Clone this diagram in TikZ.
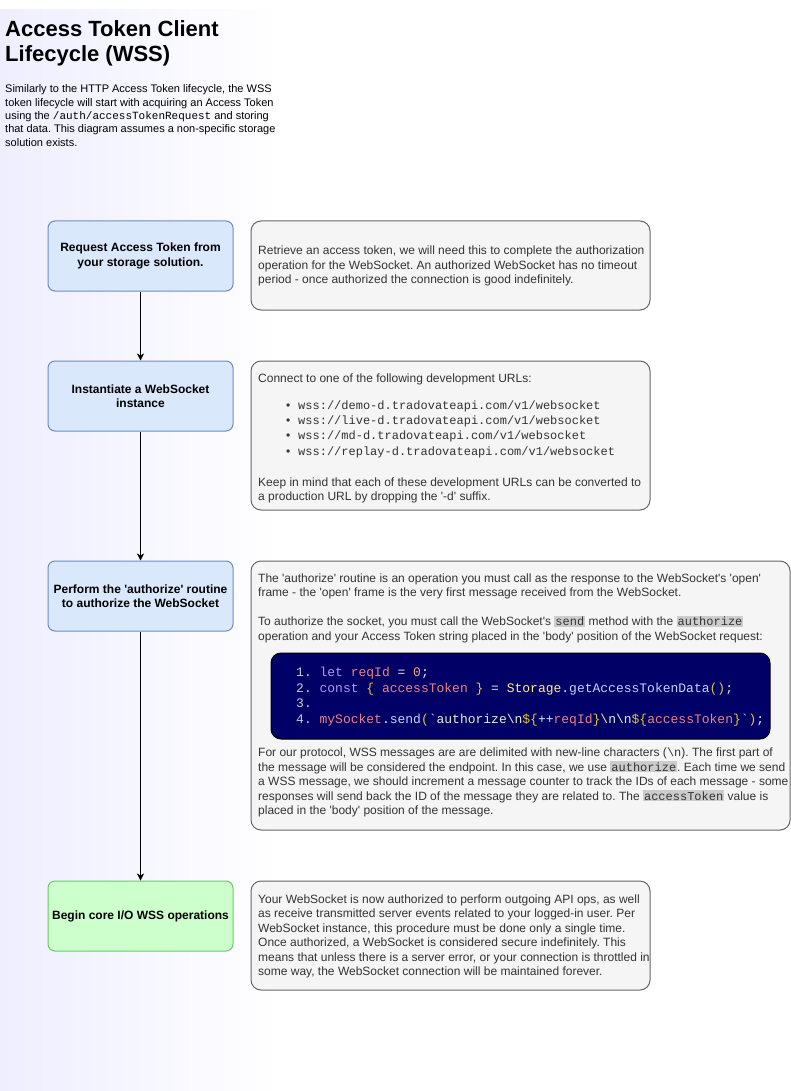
\documentclass[tikz,border=0pt]{standalone}
\usepackage{fontspec}
\setmainfont{Liberation Sans}[Ligatures=TeXOff]
\setmonofont{Liberation Mono}
\usetikzlibrary{arrows.meta}
\definecolor{bgl}{RGB}{238,238,255}
\definecolor{bfill}{RGB}{218,232,252}
\definecolor{bline}{RGB}{108,142,191}
\definecolor{gfill}{RGB}{204,255,204}
\definecolor{gline}{RGB}{102,204,102}
\definecolor{nfill}{RGB}{245,245,245}
\definecolor{nline}{RGB}{102,102,102}
\definecolor{txtgray}{RGB}{51,51,51}
\definecolor{hlgray}{RGB}{204,204,204}
\definecolor{codebg}{RGB}{0,0,102}
\definecolor{jnum}{RGB}{204,204,204}
\definecolor{jkw}{RGB}{180,150,240}
\definecolor{jvar}{RGB}{240,128,128}
\definecolor{jlit}{RGB}{247,170,120}
\definecolor{jpun}{RGB}{230,200,40}
\definecolor{jcls}{RGB}{255,235,140}
\definecolor{jfn}{RGB}{195,210,255}
\definecolor{jstr}{RGB}{232,236,200}
\definecolor{jop}{RGB}{230,230,230}
\newcommand{\hl}[1]{{\setlength\fboxsep{1pt}\colorbox{hlgray}{\ttfamily #1}}}
\newcommand{\jc}[2]{\textcolor{#1}{#2}}
\frenchspacing
\begin{document}
\begin{tikzpicture}[x=1pt,y=-1pt,
    blk/.style={rectangle,draw=bline,fill=bfill,rounded corners=7pt,minimum width=185pt,minimum height=70pt,line width=1pt,align=center,font=\fontsize{12}{14.5}\selectfont\bfseries},
    note/.style={rectangle,draw=nline,fill=nfill,rounded corners=10pt,line width=1pt},
    txt/.style={anchor=west,align=left,inner sep=0pt,text=txtgray,font=\fontsize{12}{14.5}\selectfont},
    arr/.style={-{Stealth[length=7pt,width=7pt,inset=2pt]},line width=1pt},
]
\useasboundingbox (0,0) rectangle (791,1091);
\fill[white] (0,0) rectangle (791,1091);
\shade[left color=bgl,right color=white] (0,10) rectangle (280,1090);

% heading
\node[anchor=west,align=left,inner sep=0pt,font=\fontsize{22}{25}\selectfont\bfseries] (title) at (5,43) {Access Token Client\\Lifecycle (WSS)};
\node[anchor=west,align=left,inner sep=0pt,font=\fontsize{11}{13.3}\selectfont] (intro) at (5,115.5) {Similarly to the HTTP Access Token lifecycle, the WSS\\token lifecycle will start with acquiring an Access Token\\using the \texttt{/auth/accessTokenRequest} and storing\\that data. This diagram assumes a non-specific storage\\solution exists.};

% flow
\node[blk] (req) at (140.5,256) {Request Access Token from\\your storage solution.};
\node[blk] (inst) at (140.5,396) {Instantiate a WebSocket\\instance};
\node[blk] (auth) at (140.5,596) {Perform the 'authorize' routine\\to authorize the WebSocket};
\node[blk,draw=gline,fill=gfill] (core) at (140.5,916) {Begin core I/O WSS operations};

\draw[arr] (req) -- (inst);
\draw[arr] (inst) -- (auth);
\draw[arr] (auth) -- (core);

% notes
\node[note,minimum width=399pt,minimum height=89pt] (nreq) at (450.5,265.5) {};
\node[txt] (treq) at (258,266) {Retrieve an access token, we will need this to complete the authorization\\operation for the WebSocket. An authorized WebSocket has no timeout\\period - once authorized the connection is good indefinitely.};

\node[note,minimum width=399pt,minimum height=149pt] (ninst) at (450.5,435.5) {};
\node[txt] (tinst1) at (258,379) {Connect to one of the following development URLs:};
\node[txt,font=\fontsize{12}{15.3}\selectfont\ttfamily] (tinst2) at (286,429) {\makebox[12pt][l]{\normalfont\textbullet}wss://demo-d.tradovateapi.com/v1/websocket\\\makebox[12pt][l]{\normalfont\textbullet}wss://live-d.tradovateapi.com/v1/websocket\\\makebox[12pt][l]{\normalfont\textbullet}wss://md-d.tradovateapi.com/v1/websocket\\\makebox[12pt][l]{\normalfont\textbullet}wss://replay-d.tradovateapi.com/v1/websocket};
\node[txt] (tinst3) at (258,490.5) {Keep in mind that each of these development URLs can be converted to\\a production URL by dropping the '-d' suffix.};

\node[note,minimum width=539pt,minimum height=269pt] (nauth) at (520.5,695.5) {};
\node[txt] (tauth1) at (258,586.5) {The 'authorize' routine is an operation you must call as the response to the WebSocket's 'open'\\frame - the 'open' frame is the very first message received from the WebSocket.};
\node[txt] (tauth2) at (258,629.5) {To authorize the socket, you must call the WebSocket's \hl{send} method with the \hl{authorize}\\operation and your Access Token string placed in the 'body' position of the WebSocket request:};
\node[rectangle,draw=black,fill=codebg,rounded corners=10pt,line width=1pt,minimum width=499pt,minimum height=86pt] (code) at (520.5,696) {};
\node[txt,text=jop,font=\fontsize{13}{15.7}\selectfont\ttfamily] (tcode) at (296,696.5) {\jc{jnum}{1.} \jc{jkw}{let} \jc{jvar}{reqId} = \jc{jlit}{0};\\
\jc{jnum}{2.} \jc{jkw}{const} \jc{jpun}{\{} \jc{jvar}{accessToken} \jc{jpun}{\}} = \jc{jcls}{Storage}.\jc{jfn}{getAccessTokenData}\jc{jpun}{()};\\
\jc{jnum}{3.}\\
\jc{jnum}{4.} \jc{jvar}{mySocket}.\jc{jfn}{send}\jc{jpun}{(}\jc{jstr}{\char96 authorize\textbackslash n}\jc{jpun}{\$\{}++\jc{jvar}{reqId}\jc{jpun}{\}}\jc{jstr}{\textbackslash n\textbackslash n}\jc{jpun}{\$\{}\jc{jvar}{accessToken}\jc{jpun}{\}}\jc{jstr}{\char96}\jc{jpun}{)};};
\node[txt] (tauth3) at (258,782.5) {For our protocol, WSS messages are are delimited with new-line characters (\texttt{\textbackslash n}). The first part of\\the message will be considered the endpoint. In this case, we use \hl{authorize}. Each time we send\\a WSS message, we should increment a message counter to track the IDs of each message - some\\responses will send back the ID of the message they are related to. The \hl{accessToken} value is\\placed in the 'body' position of the message.};

\node[note,minimum width=399pt,minimum height=109pt] (ncore) at (450.5,935.5) {};
\node[txt] (tcore) at (258,936.5) {Your WebSocket is now authorized to perform outgoing API ops, as well\\as receive transmitted server events related to your logged-in user. Per\\WebSocket instance, this procedure must be done only a single time.\\Once authorized, a WebSocket is considered secure indefinitely. This\\means that unless there is a server error, or your connection is throttled in\\some way, the WebSocket connection will be maintained forever.};
\end{tikzpicture}
\end{document}
